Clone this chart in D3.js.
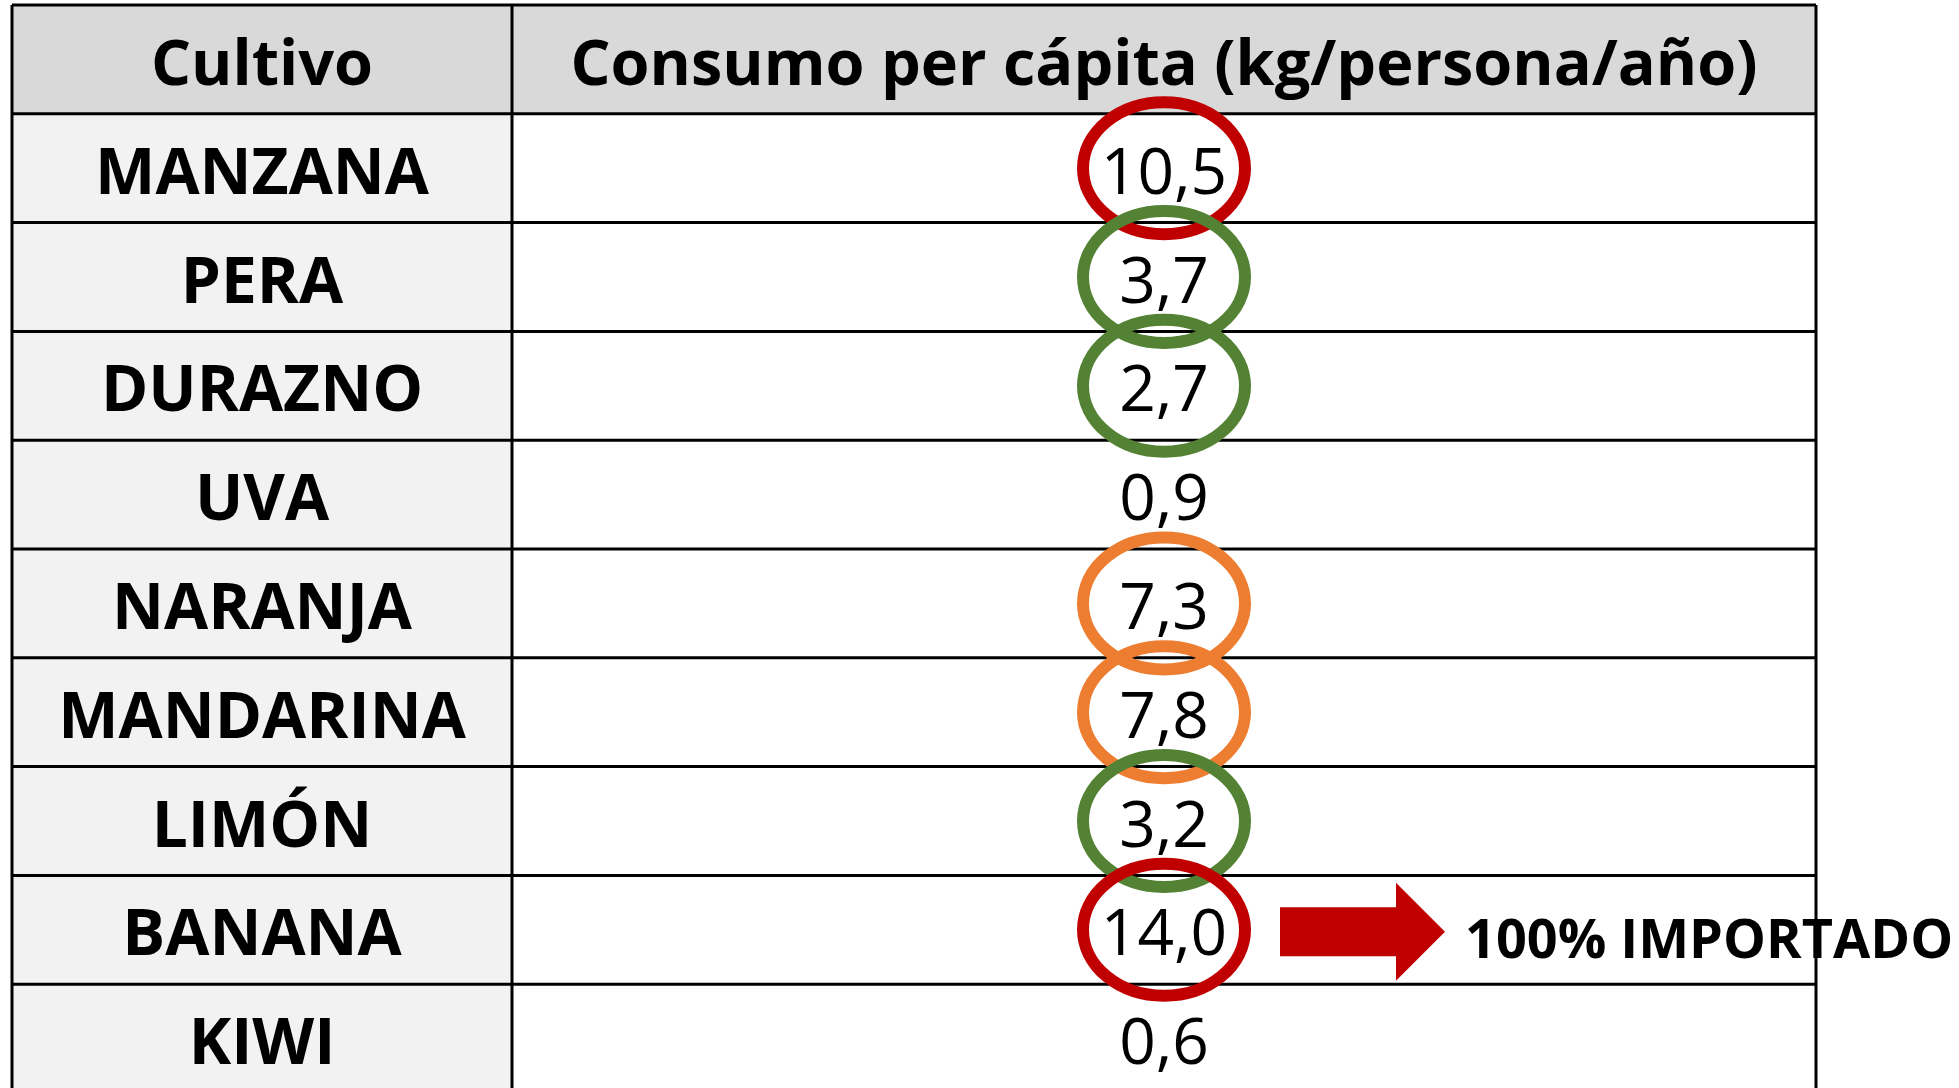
<!DOCTYPE html>
<html>
<head>
<meta charset="utf-8">
<script src="https://cdn.jsdelivr.net/npm/d3@7"></script>
<style>
  body { margin: 0; background: #fff; }
  text { font-family: "Open Sans", sans-serif; }
</style>
</head>
<body>
<div id="tabla"></div>
<script>
// Datos de la tabla
const encabezados = ["Cultivo", "Consumo per cápita (kg/persona/año)"];
const cultivos = ["MANZANA", "PERA", "DURAZNO", "UVA", "NARANJA", "MANDARINA", "LIMÓN", "BANANA", "KIWI"];
const consumo = [10.5, 3.7, 2.7, 0.9, 7.3, 7.8, 3.2, 14.0, 0.6];
// marca (círculo) de cada fila, null = sin marca
const marcas = ["rojo", "verde", "verde", null, "naranja", "naranja", "verde", "rojo", null];
const notaFila = "BANANA";
const notaTexto = "100% IMPORTADO";

const colores = {rojo: "#c00000", verde: "#548235", naranja: "#ed7d31"};

const width = 1959;
const height = 1088;

const svg = d3.select("#tabla")
    .append("svg")
    .attr("width", width)
    .attr("height", height);

// Escalas: filas y columnas
const filas = ["__header", ...cultivos];
const y = d3.scaleBand()
    .domain(filas)
    .range([5, 5 + filas.length * 108.8]);

const colBordes = [12, 512, 1816];
const x = d3.scaleOrdinal()
    .domain(["cultivo", "consumo"])
    .range([colBordes[0], colBordes[1]]);
const colAncho = {cultivo: colBordes[1] - colBordes[0], consumo: colBordes[2] - colBordes[1]};
const cx = c => x(c) + colAncho[c] / 2;
const base = 25.5; // baseline respecto al centro de la fila

const fmt = d3.formatLocale({decimal: ",", thousands: ".", grouping: [3], currency: ["", ""]}).format(".1f");

const datos = cultivos.map((c, i) => ({cultivo: c, valor: consumo[i], marca: marcas[i]}));

// Fondos
svg.append("rect")
    .attr("x", colBordes[0]).attr("y", y("__header"))
    .attr("width", colBordes[2] - colBordes[0]).attr("height", y.bandwidth())
    .attr("fill", "#d9d9d9");

svg.selectAll(".fondo")
    .data(datos)
    .enter()
    .append("rect")
    .attr("class", "fondo")
    .attr("x", x("cultivo"))
    .attr("y", d => y(d.cultivo))
    .attr("width", colAncho.cultivo)
    .attr("height", y.bandwidth())
    .attr("fill", "#f2f2f2");

// Encabezados
svg.selectAll(".encabezado")
    .data(["cultivo", "consumo"])
    .enter()
    .append("text")
    .attr("class", "encabezado")
    .attr("x", d => cx(d))
    .attr("y", y("__header") + y.bandwidth() / 2 + base)
    .attr("text-anchor", "middle")
    .style("font-weight", "bold")
    .style("font-size", "63px")
    .text((d, i) => encabezados[i]);

// Nombres de los cultivos
svg.selectAll(".cultivo")
    .data(datos)
    .enter()
    .append("text")
    .attr("class", "cultivo")
    .attr("x", cx("cultivo"))
    .attr("y", d => y(d.cultivo) + y.bandwidth() / 2 + base)
    .attr("text-anchor", "middle")
    .style("font-weight", "bold")
    .style("font-size", "64px")
    .text(d => d.cultivo);

// Flecha y nota
const yNota = y(notaFila) + y.bandwidth() / 2 + 2;
const x0 = cx("consumo");
const flecha = d3.path();
flecha.moveTo(x0 + 116, yNota - 24.5);
flecha.lineTo(x0 + 232, yNota - 24.5);
flecha.lineTo(x0 + 232, yNota - 49);
flecha.lineTo(x0 + 281, yNota);
flecha.lineTo(x0 + 232, yNota + 49);
flecha.lineTo(x0 + 232, yNota + 24.5);
flecha.lineTo(x0 + 116, yNota + 24.5);
flecha.closePath();
svg.append("path")
    .attr("d", flecha.toString())
    .attr("fill", colores.rojo);

svg.append("text")
    .attr("x", x0 + 301)
    .attr("y", yNota + 26)
    .style("font-weight", "bold")
    .style("font-size", "54px")
    .text(notaTexto);

// Líneas de la tabla
const grid = svg.append("g")
    .attr("stroke", "#000")
    .attr("stroke-width", 3);

grid.selectAll(".h")
    .data(filas.concat(["__fin"]))
    .enter()
    .append("line")
    .attr("x1", colBordes[0])
    .attr("x2", colBordes[2])
    .attr("y1", (d, i) => y.range()[0] + i * y.step())
    .attr("y2", (d, i) => y.range()[0] + i * y.step());

grid.selectAll(".v")
    .data(colBordes)
    .enter()
    .append("line")
    .attr("x1", d => d)
    .attr("x2", d => d)
    .attr("y1", y.range()[0])
    .attr("y2", y.range()[1]);

// Círculos de marca
svg.selectAll(".marca")
    .data(datos.filter(d => d.marca))
    .enter()
    .append("ellipse")
    .attr("class", "marca")
    .attr("cx", cx("consumo"))
    .attr("cy", d => y(d.cultivo) + y.bandwidth() / 2)
    .attr("rx", 81)
    .attr("ry", 66)
    .attr("fill", "none")
    .attr("stroke", d => colores[d.marca])
    .attr("stroke-width", 12);

// Valores
svg.selectAll(".valor")
    .data(datos)
    .enter()
    .append("text")
    .attr("class", "valor")
    .attr("x", cx("consumo"))
    .attr("y", d => y(d.cultivo) + y.bandwidth() / 2 + base)
    .attr("text-anchor", "middle")
    .style("font-size", "64px")
    .text(d => fmt(d.valor));
</script>
</body>
</html>
